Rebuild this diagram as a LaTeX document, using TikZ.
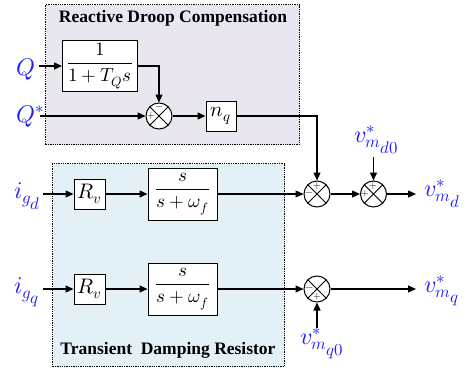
\documentclass[tikz,border=0pt]{standalone}
\usepackage{amsmath}
\usepackage{fontspec}
\usepackage{unicode-math}
\setmainfont{Liberation Serif}
\setmathfont{Latin Modern Math}
\usetikzlibrary{arrows.meta}
\definecolor{lblc}{RGB}{30,30,255}
\definecolor{topfill}{RGB}{234,230,240}
\definecolor{botfill}{RGB}{227,241,246}
\begin{document}
\begin{tikzpicture}[x=1pt,y=-1pt,
  wire/.style={line width=1.3pt},
  arr/.style={wire,-{Triangle[length=8pt,width=7pt]}},
  blk/.style={draw,line width=1pt,fill=white,inner sep=0pt,font=\fontsize{19}{22}\selectfont},
  bigblk/.style={blk,font=\fontsize{21}{24}\selectfont},
  sumnode/.style={circle,draw,line width=1pt,fill=white,minimum size=26pt,inner sep=0pt,
    path picture={\draw[line width=1pt] (path picture bounding box.north west)--(path picture bounding box.south east)
      (path picture bounding box.north east)--(path picture bounding box.south west);}},
  sgn/.style={font=\fontsize{10}{10}\selectfont,inner sep=0pt},
  lbl/.style={text=lblc,font=\fontsize{24}{28}\selectfont,inner sep=0pt,anchor=base west},
  region/.style={draw,densely dotted,line width=1.3pt,inner sep=0pt,anchor=north west},
  ttl/.style={font=\fontsize{17.5}{20}\selectfont\bfseries,inner sep=0pt}]
\useasboundingbox (0,0) rectangle (467,370);
% regions
\node[region,fill=topfill,minimum width=254pt,minimum height=140pt] (topregion) at (45,4) {};
\node[region,fill=botfill,minimum width=232pt,minimum height=203pt] (botregion) at (52,163) {};
\node[ttl] (ttltop) at (173,18) {Reactive Droop Compensation};
\node[ttl] (ttlbot) at (168,350) {Transient\ \ Damping Resistor};
% blocks
\node[blk,minimum width=75pt,minimum height=51pt] (lp) at (100,66) {$\dfrac{1}{1+T_Q s}$};
\node[sumnode] (sum1) at (159,116) {};
\node[bigblk,minimum width=30pt,minimum height=30pt] (nq) at (221,116) {$n_q$};
\node[bigblk,minimum width=31pt,minimum height=30pt] (rv1) at (89.5,194) {$R_v$};
\node[blk,minimum width=69pt,minimum height=52pt] (f1) at (182.5,194) {$\dfrac{s}{s+\omega_f}$};
\node[sumnode] (sum2) at (317,194) {};
\node[sumnode] (sum3) at (373.5,194) {};
\node[bigblk,minimum width=31pt,minimum height=30pt] (rv2) at (89.5,289) {$R_v$};
\node[blk,minimum width=69pt,minimum height=52pt] (f2) at (182.5,289) {$\dfrac{s}{s+\omega_f}$};
\node[sumnode] (sum4) at (317,289) {};
% signs
\node[sgn] (s1a) at ([yshift=8pt]sum1.center) {$-$};
\node[sgn] (s1b) at ([xshift=-8pt]sum1.center) {$+$};
\node[sgn] (s2a) at ([yshift=8pt]sum2.center) {$+$};
\node[sgn] (s2b) at ([xshift=-8pt]sum2.center) {$-$};
\node[sgn] (s3a) at ([yshift=8pt]sum3.center) {$+$};
\node[sgn] (s3b) at ([xshift=-8pt]sum3.center) {$+$};
\node[sgn] (s4a) at ([xshift=-8pt]sum4.center) {$-$};
\node[sgn] (s4b) at ([yshift=-8pt]sum4.center) {$+$};
% labels
\node[lbl] (lQ) at (16,75) {$Q$};
\node[lbl] (lQs) at (16,122) {$Q^*$};
\node[lbl] (ligd) at (14,198) {$i_{g_{\scriptstyle d}}$};
\node[lbl] (ligq) at (14,293) {$i_{g_{\scriptstyle q}}$};
\node[lbl] (lvmd) at (424,196) {$v^*_{m_{\scriptstyle d}}$};
\node[lbl] (lvmq) at (424,292) {$v^*_{m_{\scriptstyle q}}$};
\node[lbl] (lvmd0) at (354,142) {$v^*_{m_{\scriptstyle d0}}$};
\node[lbl] (lvmq0) at (300,344) {$v^*_{m_{\scriptstyle q0}}$};
% connector end points
\coordinate (Qin) at (39,66);
\coordinate (Qsin) at (40,116);
\coordinate (igdin) at (43,194);
\coordinate (igqin) at (43,289);
\coordinate (outd) at (416,194);
\coordinate (outq) at (416,289);
\coordinate (d0in) at (373.5,157);
\coordinate (q0in) at (317,328);
% connectors
\draw[arr] (Qin) -- (lp.west);
\draw[arr] (lp.east) -| (sum1.north);
\draw[arr] (Qsin) -- (sum1.west);
\draw[arr] (sum1.east) -- (nq.west);
\draw[arr] (nq.east) -| (sum2.north);
\draw[arr] (igdin) -- (rv1.west);
\draw[arr] (rv1.east) -- (f1.west);
\draw[arr] (f1.east) -- (sum2.west);
\draw[arr] (sum2.east) -- (sum3.west);
\draw[arr] (d0in) -- (sum3.north);
\draw[arr] (sum3.east) -- (outd);
\draw[arr] (igqin) -- (rv2.west);
\draw[arr] (rv2.east) -- (f2.west);
\draw[arr] (f2.east) -- (sum4.west);
\draw[arr] (q0in) -- (sum4.south);
\draw[arr] (sum4.east) -- (outq);
\end{tikzpicture}
\end{document}
